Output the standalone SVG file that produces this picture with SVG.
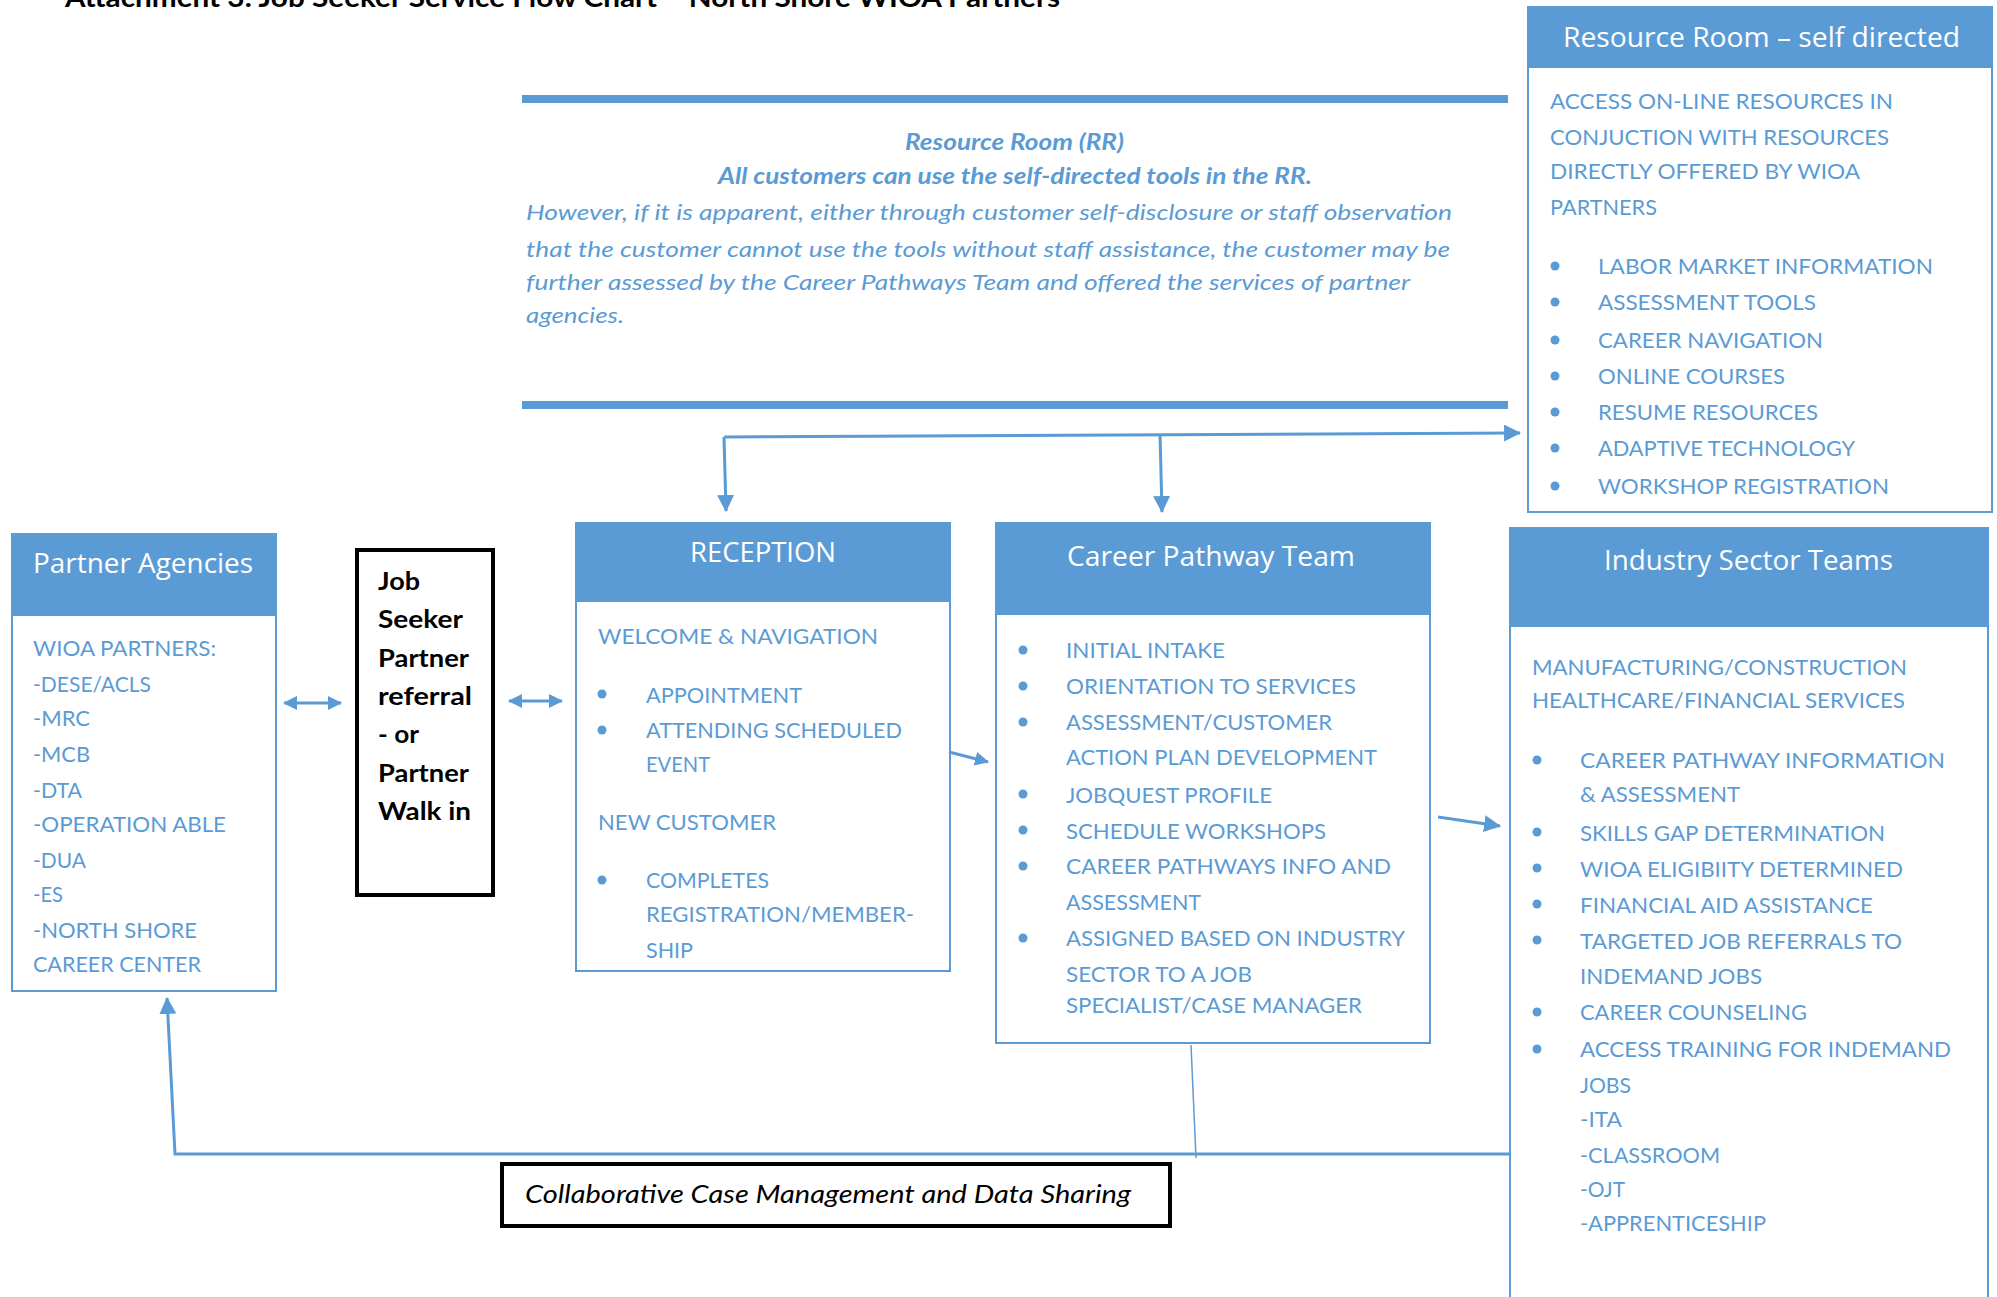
<svg xmlns="http://www.w3.org/2000/svg" width="1997" height="1297" viewBox="0 0 1997 1297">
<style>
.bx{fill:#fff;stroke:#5B9BD5;stroke-width:2}
.hd{fill:#5B9BD5}
.ht{font-family:"Open Sans","Noto Sans",sans-serif;font-size:27px;fill:#fff}
.t{font-family:Lato,"Open Sans",sans-serif;font-size:21px;fill:#5B9BD5}
.it{font-family:Lato,"Open Sans",sans-serif;font-size:22px;font-style:italic;fill:#5B9BD5}
.bi{font-weight:bold}
.k{font-family:Lato,"Liberation Sans",sans-serif;font-size:25px;font-weight:bold;fill:#000}
.blk{fill:#fff;stroke:#000;stroke-width:4}
.c{stroke:#5B9BD5;stroke-width:3;fill:none}
.bu{fill:#5B9BD5}
</style>
<defs>
<marker id="ah" markerUnits="userSpaceOnUse" viewBox="0 0 16 16" markerWidth="17" markerHeight="17" refX="15" refY="8" orient="auto-start-reverse"><path d="M0,0 L16,8 L0,16 z" fill="#5B9BD5"/></marker>
<marker id="ahs" markerUnits="userSpaceOnUse" viewBox="0 0 14 14" markerWidth="14" markerHeight="14" refX="13" refY="7" orient="auto-start-reverse"><path d="M0,0 L14,7 L0,14 z" fill="#5B9BD5"/></marker>
</defs>
<rect width="1997" height="1297" fill="#fff"/>

<g id="title">
<text x="65" y="7" font-family="Lato,'Liberation Sans',sans-serif" font-size="27" font-weight="bold" fill="#000" textLength="995" lengthAdjust="spacingAndGlyphs">Attachment 3: Job Seeker Service Flow Chart – North Shore WIOA Partners</text>
</g>

<g id="rr-note">
<rect x="522" y="95" width="986" height="8" fill="#5B9BD5"/>
<rect x="522" y="401" width="986" height="8" fill="#5B9BD5"/>
<text class="it bi" x="905" y="150" textLength="219" lengthAdjust="spacingAndGlyphs">Resource Room (RR)</text>
<text class="it bi" x="718" y="184" textLength="594" lengthAdjust="spacingAndGlyphs">All customers can use the self-directed tools in the RR.</text>
<text class="it" x="526" y="220" textLength="926" lengthAdjust="spacingAndGlyphs">However, if it is apparent, either through customer self-disclosure or staff observation</text>
<text class="it" x="526" y="257" textLength="924" lengthAdjust="spacingAndGlyphs">that the customer cannot use the tools without staff assistance, the customer may be</text>
<text class="it" x="526" y="290" textLength="884" lengthAdjust="spacingAndGlyphs">further assessed by the Career Pathways Team and offered the services of partner</text>
<text class="it" x="526" y="323" textLength="98" lengthAdjust="spacingAndGlyphs">agencies.</text>
</g>

<g id="resource-room">
<rect class="bx" x="1528" y="7" width="464" height="505"/>
<rect class="hd" x="1527" y="6" width="466" height="62"/>
<text class="ht" x="1563" y="47" textLength="397" lengthAdjust="spacingAndGlyphs">Resource Room – self directed</text>
<text class="t" x="1550" y="109" textLength="343" lengthAdjust="spacingAndGlyphs">ACCESS ON-LINE RESOURCES IN</text>
<text class="t" x="1550" y="145" textLength="339" lengthAdjust="spacingAndGlyphs">CONJUCTION WITH RESOURCES</text>
<text class="t" x="1550" y="179" textLength="310" lengthAdjust="spacingAndGlyphs">DIRECTLY OFFERED BY WIOA</text>
<text class="t" x="1550" y="215" textLength="107" lengthAdjust="spacingAndGlyphs">PARTNERS</text>
<circle class="bu" cx="1555" cy="266" r="4.5"/><text class="t" x="1598" y="274" textLength="335" lengthAdjust="spacingAndGlyphs">LABOR MARKET INFORMATION</text>
<circle class="bu" cx="1555" cy="302" r="4.5"/><text class="t" x="1598" y="310" textLength="218" lengthAdjust="spacingAndGlyphs">ASSESSMENT TOOLS</text>
<circle class="bu" cx="1555" cy="340" r="4.5"/><text class="t" x="1598" y="348" textLength="225" lengthAdjust="spacingAndGlyphs">CAREER NAVIGATION</text>
<circle class="bu" cx="1555" cy="376" r="4.5"/><text class="t" x="1598" y="384" textLength="187" lengthAdjust="spacingAndGlyphs">ONLINE COURSES</text>
<circle class="bu" cx="1555" cy="412" r="4.5"/><text class="t" x="1598" y="420" textLength="220" lengthAdjust="spacingAndGlyphs">RESUME RESOURCES</text>
<circle class="bu" cx="1555" cy="448" r="4.5"/><text class="t" x="1598" y="456" textLength="257" lengthAdjust="spacingAndGlyphs">ADAPTIVE TECHNOLOGY</text>
<circle class="bu" cx="1555" cy="486" r="4.5"/><text class="t" x="1598" y="494" textLength="291" lengthAdjust="spacingAndGlyphs">WORKSHOP REGISTRATION</text>
</g>

<g id="partner-agencies">
<rect class="bx" x="12" y="534" width="264" height="457"/>
<rect class="hd" x="11" y="533" width="266" height="83"/>
<text class="ht" x="33" y="573" textLength="220" lengthAdjust="spacingAndGlyphs">Partner Agencies</text>
<text class="t" x="33" y="656" textLength="183" lengthAdjust="spacingAndGlyphs">WIOA PARTNERS:</text>
<text class="t" x="33" y="692" textLength="118" lengthAdjust="spacingAndGlyphs">-DESE/ACLS</text>
<text class="t" x="33" y="726" textLength="57" lengthAdjust="spacingAndGlyphs">-MRC</text>
<text class="t" x="33" y="762" textLength="57" lengthAdjust="spacingAndGlyphs">-MCB</text>
<text class="t" x="33" y="798" textLength="49" lengthAdjust="spacingAndGlyphs">-DTA</text>
<text class="t" x="33" y="832" textLength="193" lengthAdjust="spacingAndGlyphs">-OPERATION ABLE</text>
<text class="t" x="33" y="868" textLength="53" lengthAdjust="spacingAndGlyphs">-DUA</text>
<text class="t" x="33" y="902" textLength="30" lengthAdjust="spacingAndGlyphs">-ES</text>
<text class="t" x="33" y="938" textLength="164" lengthAdjust="spacingAndGlyphs">-NORTH SHORE</text>
<text class="t" x="33" y="972" textLength="168" lengthAdjust="spacingAndGlyphs">CAREER CENTER</text>
</g>

<g id="job-seeker">
<rect class="blk" x="357" y="550" width="136" height="345"/>
<text class="k" x="378" y="590" textLength="42" lengthAdjust="spacingAndGlyphs">Job</text>
<text class="k" x="378" y="628" textLength="85" lengthAdjust="spacingAndGlyphs">Seeker</text>
<text class="k" x="378" y="667" textLength="91" lengthAdjust="spacingAndGlyphs">Partner</text>
<text class="k" x="378" y="705" textLength="94" lengthAdjust="spacingAndGlyphs">referral</text>
<text class="k" x="378" y="743" textLength="41" lengthAdjust="spacingAndGlyphs">- or</text>
<text class="k" x="378" y="782" textLength="91" lengthAdjust="spacingAndGlyphs">Partner</text>
<text class="k" x="378" y="820" textLength="93" lengthAdjust="spacingAndGlyphs">Walk in</text>
</g>

<g id="reception">
<rect class="bx" x="576" y="523" width="374" height="448"/>
<rect class="hd" x="575" y="522" width="376" height="80"/>
<text class="ht" x="690" y="562" font-size="28" textLength="146" lengthAdjust="spacingAndGlyphs">RECEPTION</text>
<text class="t" x="598" y="644" textLength="280" lengthAdjust="spacingAndGlyphs">WELCOME &amp; NAVIGATION</text>
<circle class="bu" cx="602" cy="694" r="4.5"/><text class="t" x="646" y="703" textLength="156" lengthAdjust="spacingAndGlyphs">APPOINTMENT</text>
<circle class="bu" cx="602" cy="730" r="4.5"/><text class="t" x="646" y="738" textLength="256" lengthAdjust="spacingAndGlyphs">ATTENDING SCHEDULED</text>
<text class="t" x="646" y="772" textLength="64" lengthAdjust="spacingAndGlyphs">EVENT</text>
<text class="t" x="598" y="830" textLength="178" lengthAdjust="spacingAndGlyphs">NEW CUSTOMER</text>
<circle class="bu" cx="602" cy="880" r="4.5"/><text class="t" x="646" y="888" textLength="123" lengthAdjust="spacingAndGlyphs">COMPLETES</text>
<text class="t" x="646" y="922" textLength="268" lengthAdjust="spacingAndGlyphs">REGISTRATION/MEMBER-</text>
<text class="t" x="646" y="958" textLength="47" lengthAdjust="spacingAndGlyphs">SHIP</text>
</g>

<g id="career-pathway-team">
<rect class="bx" x="996" y="523" width="434" height="520"/>
<rect class="hd" x="995" y="522" width="436" height="93"/>
<text class="ht" x="1067" y="566" textLength="288" lengthAdjust="spacingAndGlyphs">Career Pathway Team</text>
<circle class="bu" cx="1023" cy="650" r="4.5"/><text class="t" x="1066" y="658" textLength="159" lengthAdjust="spacingAndGlyphs">INITIAL INTAKE</text>
<circle class="bu" cx="1023" cy="686" r="4.5"/><text class="t" x="1066" y="694" textLength="290" lengthAdjust="spacingAndGlyphs">ORIENTATION TO SERVICES</text>
<circle class="bu" cx="1023" cy="722" r="4.5"/><text class="t" x="1066" y="730" textLength="266" lengthAdjust="spacingAndGlyphs">ASSESSMENT/CUSTOMER</text>
<text class="t" x="1066" y="765" textLength="311" lengthAdjust="spacingAndGlyphs">ACTION PLAN DEVELOPMENT</text>
<circle class="bu" cx="1023" cy="794" r="4.5"/><text class="t" x="1066" y="803" textLength="206" lengthAdjust="spacingAndGlyphs">JOBQUEST PROFILE</text>
<circle class="bu" cx="1023" cy="830" r="4.5"/><text class="t" x="1066" y="839" textLength="260" lengthAdjust="spacingAndGlyphs">SCHEDULE WORKSHOPS</text>
<circle class="bu" cx="1023" cy="866" r="4.5"/><text class="t" x="1066" y="874" textLength="325" lengthAdjust="spacingAndGlyphs">CAREER PATHWAYS INFO AND</text>
<text class="t" x="1066" y="910" textLength="135" lengthAdjust="spacingAndGlyphs">ASSESSMENT</text>
<circle class="bu" cx="1023" cy="938" r="4.5"/><text class="t" x="1066" y="946" textLength="339" lengthAdjust="spacingAndGlyphs">ASSIGNED BASED ON INDUSTRY</text>
<text class="t" x="1066" y="982" textLength="186" lengthAdjust="spacingAndGlyphs">SECTOR TO A JOB</text>
<text class="t" x="1066" y="1013" textLength="296" lengthAdjust="spacingAndGlyphs">SPECIALIST/CASE MANAGER</text>
</g>

<g id="industry-sector-teams">
<rect class="bx" x="1510" y="528" width="478" height="790"/>
<rect class="hd" x="1509" y="527" width="480" height="100"/>
<text class="ht" x="1604" y="570" textLength="289" lengthAdjust="spacingAndGlyphs">Industry Sector Teams</text>
<text class="t" x="1532" y="675" textLength="375" lengthAdjust="spacingAndGlyphs">MANUFACTURING/CONSTRUCTION</text>
<text class="t" x="1532" y="708" textLength="373" lengthAdjust="spacingAndGlyphs">HEALTHCARE/FINANCIAL SERVICES</text>
<circle class="bu" cx="1537" cy="760" r="4.5"/><text class="t" x="1580" y="768" textLength="365" lengthAdjust="spacingAndGlyphs">CAREER PATHWAY INFORMATION</text>
<text class="t" x="1580" y="802" textLength="160" lengthAdjust="spacingAndGlyphs">&amp; ASSESSMENT</text>
<circle class="bu" cx="1537" cy="832" r="4.5"/><text class="t" x="1580" y="841" textLength="305" lengthAdjust="spacingAndGlyphs">SKILLS GAP DETERMINATION</text>
<circle class="bu" cx="1537" cy="868" r="4.5"/><text class="t" x="1580" y="877" textLength="323" lengthAdjust="spacingAndGlyphs">WIOA ELIGIBIITY DETERMINED</text>
<circle class="bu" cx="1537" cy="904" r="4.5"/><text class="t" x="1580" y="913" textLength="293" lengthAdjust="spacingAndGlyphs">FINANCIAL AID ASSISTANCE</text>
<circle class="bu" cx="1537" cy="940" r="4.5"/><text class="t" x="1580" y="949" textLength="322" lengthAdjust="spacingAndGlyphs">TARGETED JOB REFERRALS TO</text>
<text class="t" x="1580" y="984" textLength="182" lengthAdjust="spacingAndGlyphs">INDEMAND JOBS</text>
<circle class="bu" cx="1537" cy="1012" r="4.5"/><text class="t" x="1580" y="1020" textLength="227" lengthAdjust="spacingAndGlyphs">CAREER COUNSELING</text>
<circle class="bu" cx="1537" cy="1049" r="4.5"/><text class="t" x="1580" y="1057" textLength="371" lengthAdjust="spacingAndGlyphs">ACCESS TRAINING FOR INDEMAND</text>
<text class="t" x="1580" y="1093" textLength="51" lengthAdjust="spacingAndGlyphs">JOBS</text>
<text class="t" x="1580" y="1127" textLength="42" lengthAdjust="spacingAndGlyphs">-ITA</text>
<text class="t" x="1580" y="1163" textLength="140" lengthAdjust="spacingAndGlyphs">-CLASSROOM</text>
<text class="t" x="1580" y="1197" textLength="45" lengthAdjust="spacingAndGlyphs">-OJT</text>
<text class="t" x="1580" y="1231" textLength="186" lengthAdjust="spacingAndGlyphs">-APPRENTICESHIP</text>
</g>

<g id="collab">
<rect class="blk" x="502" y="1164" width="668" height="62"/>
<text x="525" y="1203" font-family="Lato,'Liberation Sans',sans-serif" font-size="25" font-style="italic" fill="#000" textLength="606" lengthAdjust="spacingAndGlyphs">Collaborative Case Management and Data Sharing</text>
</g>

<g id="connectors">
<path class="c" d="M724,437 L1520,433" marker-end="url(#ah)"/>
<path class="c" d="M724,437 L726,511" marker-end="url(#ah)"/>
<path class="c" d="M1160,434 L1162,512" marker-end="url(#ah)"/>
<path class="c" d="M284,703 L341,703" marker-start="url(#ahs)" marker-end="url(#ahs)"/>
<path class="c" d="M509,701 L562,701" marker-start="url(#ahs)" marker-end="url(#ahs)"/>
<path class="c" d="M949,752 L988,762" marker-end="url(#ahs)"/>
<path class="c" d="M1438,817 L1500,826" marker-end="url(#ah)"/>
<path class="c" d="M1191,1045 L1196,1158" style="stroke-width:1.5"/>
<path class="c" d="M1510,1154 L175,1154 L167,998" marker-end="url(#ah)"/>
</g>
</svg>
